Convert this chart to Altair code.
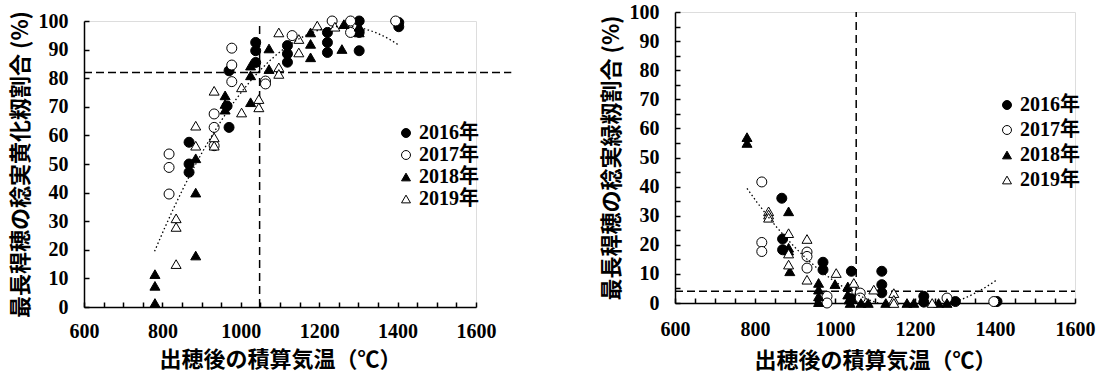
import altair as alt
import pandas as pd

YEARS = ["2016年", "2017年", "2018年", "2019年"]
SHAPES = ["circle", "circle", "triangle-up", "triangle-up"]
FILLS = ["black", "white", "black", "white"]
STROKES = ["black", "black", "black", "black"]

# ---- 稔実黄化籾割合 (left panel) ----
yel_2016_x = [868, 868, 868, 965, 970, 970, 1038, 1038, 1038, 1119, 1119, 1119, 1221, 1221, 1221, 1302, 1302, 1302, 1403, 1403]
yel_2016_y = [57.6, 50, 47.1, 70.3, 82.6, 62.8, 92.5, 89.6, 85.5, 91.4, 88.5, 85.6, 96, 92.5, 89, 100, 96, 89.6, 99.5, 98]
yel_2017_x = [817, 817, 817, 932, 932, 932, 977, 977, 977, 1063, 1063, 1131, 1233, 1280, 1280, 1395]
yel_2017_y = [53.5, 48.8, 39.5, 67.5, 62.8, 56.4, 90.5, 84.6, 78.8, 79, 78, 94.9, 100, 100, 96, 100]
yel_2018_x = [781, 781, 781, 885, 885, 885, 960, 960, 960, 1025, 1025, 1025, 1072, 1072, 1178, 1178, 1178, 1258, 1263, 1302, 1302]
yel_2018_y = [1.4, 7.4, 11.5, 18, 40, 52, 74, 71, 69, 71.6, 81, 84.4, 90.4, 83.2, 87.3, 92, 96, 90.2, 98.9, 96, 98]
yel_2019_x = [835, 835, 835, 885, 885, 932, 932, 932, 1002, 1002, 1046, 1046, 1097, 1097, 1097, 1148, 1148, 1195, 1240]
yel_2019_y = [15, 28, 31, 63.4, 56.4, 75.6, 59.3, 56.4, 76.8, 68, 72.7, 69.8, 96, 83.8, 81.5, 93.7, 89, 98.4, 98]

# ---- 稔実緑籾割合 (right panel) ----
grn_2016_x = [867, 869, 869, 970, 970, 1041, 1041, 1117, 1117, 1117, 1222, 1222, 1301, 1405]
grn_2016_y = [36, 22, 18.3, 14, 11.4, 10.9, 1.5, 10.9, 6.3, 3.5, 2.3, 0.3, 0.5, 0.5]
grn_2017_x = [817, 817, 817, 930, 930, 930, 980, 980, 1063, 1063, 1280, 1397]
grn_2017_y = [41.6, 20.8, 17.7, 17.5, 16, 12, 2.3, 0, 3.4, 1.7, 1.7, 0.5]
grn_2018_x = [780, 780, 884, 884, 887, 884, 959, 959, 959, 959, 1000, 1032, 1032, 1035, 1038, 1065, 1083, 1127, 1180, 1197, 1259, 1280]
grn_2018_y = [57, 55, 31.5, 18, 10.9, 19, 6.9, 4.6, 2.3, 0.3, 6.5, 5.7, 2.9, 1.2, 0, 0, 0, 0, 0, 0, 0, 0]
grn_2019_x = [834, 834, 834, 884, 884, 884, 930, 930, 1003, 1047, 1097, 1147, 1147, 1147, 1243]
grn_2019_y = [31.5, 30.4, 29.3, 24, 17, 13.2, 22, 8, 10.3, 6.9, 4.6, 3.4, 1.1, 0, 0]

X_TICKS = [600, 800, 1000, 1200, 1400, 1600]
X_MINOR = list(range(600, 1601, 50))

NUM_FONT = "Liberation Serif"
JP_FONT = "Noto Sans CJK JP"
LEG_FONT = "Liberation Serif, Noto Sans CJK JP"


def frame(xs, ys):
    rows = []
    for year, xv, yv in zip(YEARS, xs, ys):
        rows += [{"x": a, "y": b, "year": year} for a, b in zip(xv, yv)]
    return pd.DataFrame(rows)


def panel(df, ytitle, w, h, vline_x, hline_y, hline_end, y_minor, fit_extent,
          leg_x, leg_y, leg_pad, xlabel_pad, xtitle_pad):
    xs = alt.Scale(domain=[600, 1600], nice=False, zero=False)
    ys = alt.Scale(domain=[0, 100], nice=False)
    legend = alt.Legend(
        title=None, orient="none", legendX=leg_x, legendY=leg_y,
        labelFont=LEG_FONT, labelFontSize=20, labelFontWeight="bold", labelColor="black",
        symbolSize=80, symbolStrokeColor="black", symbolStrokeWidth=1,
        rowPadding=leg_pad, labelOffset=3,
    )
    points = alt.Chart(df).mark_point(
        filled=False, size=100, strokeWidth=1, opacity=1
    ).encode(
        x=alt.X("x:Q", scale=xs, axis=alt.Axis(
            values=X_TICKS, format="d", ticks=False, tickSize=0, grid=False,
            domainColor="black", domainWidth=1.5, labelFlush=False,
            labelFont=NUM_FONT, labelFontSize=20, labelFontWeight="bold",
            labelColor="black", labelPadding=xlabel_pad,
            title="出穂後の積算気温（℃）", titleFont=JP_FONT, titleFontSize=22,
            titleFontWeight="bold", titleColor="black", titlePadding=xtitle_pad)),
        y=alt.Y("y:Q", scale=ys, axis=alt.Axis(
            values=list(range(0, 101, 10)), format="d", ticks=False, tickSize=0, grid=False,
            domainColor="black", domainWidth=1.5,
            labelFont=NUM_FONT, labelFontSize=20, labelFontWeight="bold",
            labelColor="black", labelPadding=16,
            title=ytitle, titleFont=JP_FONT, titleFontSize=22, titleFontWeight="bold",
            titleColor="black", titlePadding=6)),
        shape=alt.Shape("year:N", scale=alt.Scale(domain=YEARS, range=SHAPES), legend=legend),
        fill=alt.Fill("year:N", scale=alt.Scale(domain=YEARS, range=FILLS), legend=legend),
        stroke=alt.Stroke("year:N", scale=alt.Scale(domain=YEARS, range=STROKES), legend=legend),
        order=alt.Order("year:N"),
    )
    # vertical threshold line; its axes carry the inward tick marks
    vrule = alt.Chart(pd.DataFrame({"x": [vline_x], "y0": [0], "y1": [100]})).mark_rule(
        color="black", strokeWidth=1.5, strokeDash=[8, 5]
    ).encode(
        x=alt.X("x:Q", scale=xs, axis=alt.Axis(
            orient="top", offset=-h, labels=False, domain=False, grid=False, title=None,
            values=X_MINOR, tickSize=5, tickColor="black", tickWidth=1.5)),
        y=alt.Y("y0:Q", scale=ys, axis=alt.Axis(
            orient="right", offset=-w, labels=False, domain=False, grid=False, title=None,
            values=y_minor, tickSize=5, tickColor="black", tickWidth=1.5)),
        y2="y1:Q",
    )
    hrule = alt.Chart(pd.DataFrame({"x0": [600], "x1": [hline_end], "y": [hline_y]})).mark_rule(
        color="black", strokeWidth=1.5, strokeDash=[8, 4], clip=False
    ).encode(
        x=alt.X("x0:Q", scale=xs, axis=None),
        x2="x1:Q",
        y=alt.Y("y:Q", scale=ys, axis=None),
    )
    fit = alt.Chart(df).transform_regression(
        "x", "y", method="poly", order=2, extent=fit_extent
    ).mark_line(color="black", strokeWidth=1.3, strokeDash=[1.5, 2.5], clip=True).encode(
        x=alt.X("x:Q", scale=xs, axis=None),
        y=alt.Y("y:Q", scale=ys, axis=None),
    )
    return alt.layer(hrule, vrule, points, fit).resolve_axis(
        x="independent", y="independent"
    ).properties(width=w, height=h)


left = panel(
    frame([yel_2016_x, yel_2017_x, yel_2018_x, yel_2019_x],
          [yel_2016_y, yel_2017_y, yel_2018_y, yel_2019_y]),
    "最長稈穂の稔実黄化籾割合 (%)", 392, 286, 1048, 82, 1690,
    list(range(0, 101, 10)), [780, 1400], 312, 111, 2, 14, 8,
)

right = panel(
    frame([grn_2016_x, grn_2017_x, grn_2018_x, grn_2019_x],
          [grn_2016_y, grn_2017_y, grn_2018_y, grn_2019_y]),
    "最長稈穂の稔実緑籾割合 (%)", 400, 291, 1053, 4, 1600,
    list(range(0, 101, 5)), [780, 1405], 322, 83, 5, 16, 11,
)

# thin empty strip that lowers the left panel a little
spacer = alt.Chart(pd.DataFrame({"v": [0]})).mark_point(opacity=0, size=1).properties(
    width=392, height=1
)

chart = alt.hconcat(
    alt.vconcat(spacer, left, spacing=-3), right, spacing=86
).resolve_scale(shape="independent", fill="independent", stroke="independent").resolve_legend(
    shape="independent", fill="independent", stroke="independent"
).properties(
    padding={"left": 8, "top": 1, "right": 0, "bottom": 0}
).configure_view(stroke=None).configure(background="white")

chart.save("out.html", embed_options={"renderer": "svg", "actions": False})
